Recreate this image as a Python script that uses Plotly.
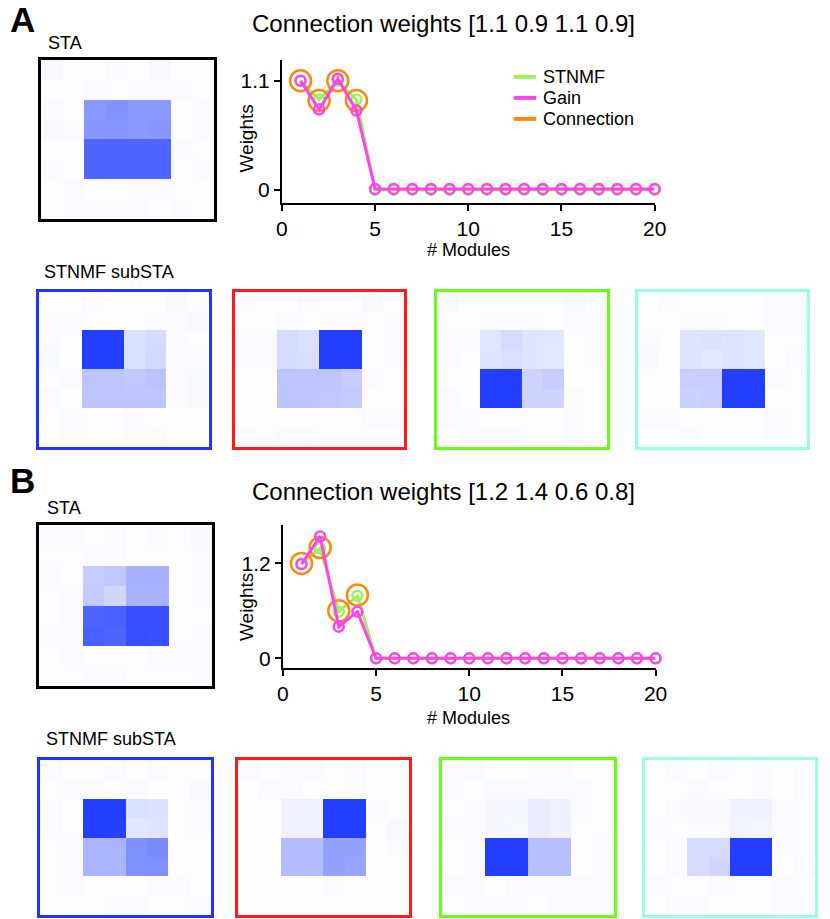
import plotly.graph_objects as go

W, H = 830, 919

# ---------------- data ----------------
modules = list(range(1, 21))

A_title = "Connection weights [1.1 0.9 1.1 0.9]"
A_stnmf = [1.10, 0.91, 1.10, 0.91] + [0.0] * 16
A_gain = [1.10, 0.81, 1.12, 0.80] + [0.01] * 16
A_conn = [1.1, 0.9, 1.1, 0.9]
A_yticks = [0, 1.1]
A_yrange = [-0.13, 1.31]

B_title = "Connection weights [1.2 1.4 0.6 0.8]"
B_stnmf = [1.20, 1.39, 0.59, 0.79] + [0.0] * 16
B_gain = [1.19, 1.54, 0.40, 0.59] + [0.0] * 16
B_conn = [1.2, 1.4, 0.6, 0.8]
B_yticks = [0, 1.2]
B_yrange = [-0.126, 1.68]

x_ticks = [0, 5, 10, 15, 20]
legend_names = ["STNMF", "Gain", "Connection"]

A_sta = [
    [0.03, 0.01, 0.01, 0.02, 0.01, 0.03, 0.01, 0.01],
    [0.01, 0.01, 0.02, 0.01, 0.02, 0.02, 0.02, 0.01],
    [0.02, 0.01, 0.53, 0.56, 0.53, 0.53, 0.01, 0.02],
    [0.03, 0.02, 0.54, 0.54, 0.53, 0.54, 0.01, 0.02],
    [0.01, 0.01, 0.79, 0.80, 0.79, 0.79, 0.02, 0.01],
    [0.02, 0.01, 0.79, 0.79, 0.79, 0.79, 0.01, 0.02],
    [0.01, 0.02, 0.01, 0.01, 0.02, 0.02, 0.01, 0.01],
    [0.01, 0.02, 0.02, 0.02, 0.02, 0.01, 0.02, 0.01],
]
A_sub1 = [
    [0.01, 0.01, 0.02, 0.01, 0.01, 0.01, 0.03, 0.01],
    [0.02, 0.02, 0.01, 0.01, 0.01, 0.02, 0.02, 0.03],
    [0.02, 0.01, 0.99, 0.99, 0.16, 0.19, 0.02, 0.01],
    [0.03, 0.01, 0.99, 0.99, 0.16, 0.20, 0.02, 0.02],
    [0.01, 0.02, 0.30, 0.30, 0.28, 0.31, 0.02, 0.03],
    [0.02, 0.01, 0.30, 0.29, 0.29, 0.29, 0.02, 0.03],
    [0.01, 0.02, 0.01, 0.01, 0.02, 0.01, 0.01, 0.01],
    [0.01, 0.02, 0.01, 0.01, 0.02, 0.02, 0.01, 0.01],
]
A_sub2 = [
    [0.02, 0.01, 0.01, 0.02, 0.01, 0.01, 0.03, 0.01],
    [0.01, 0.01, 0.02, 0.01, 0.02, 0.02, 0.01, 0.02],
    [0.02, 0.02, 0.18, 0.16, 0.99, 0.99, 0.01, 0.02],
    [0.02, 0.02, 0.18, 0.17, 0.99, 0.99, 0.01, 0.02],
    [0.01, 0.01, 0.30, 0.29, 0.29, 0.26, 0.02, 0.01],
    [0.01, 0.01, 0.29, 0.29, 0.28, 0.27, 0.01, 0.01],
    [0.01, 0.01, 0.01, 0.01, 0.01, 0.01, 0.02, 0.02],
    [0.02, 0.01, 0.02, 0.02, 0.01, 0.01, 0.01, 0.01],
]
A_sub3 = [
    [0.03, 0.01, 0.01, 0.01, 0.01, 0.01, 0.03, 0.01],
    [0.01, 0.01, 0.02, 0.02, 0.02, 0.01, 0.02, 0.02],
    [0.02, 0.02, 0.13, 0.18, 0.14, 0.13, 0.01, 0.02],
    [0.02, 0.01, 0.14, 0.16, 0.14, 0.12, 0.01, 0.02],
    [0.01, 0.01, 0.99, 0.99, 0.22, 0.26, 0.01, 0.01],
    [0.02, 0.01, 0.99, 0.99, 0.22, 0.22, 0.02, 0.01],
    [0.02, 0.02, 0.01, 0.01, 0.01, 0.01, 0.02, 0.01],
    [0.01, 0.02, 0.02, 0.02, 0.01, 0.01, 0.02, 0.01],
]
A_sub4 = [
    [0.01, 0.02, 0.01, 0.01, 0.01, 0.01, 0.02, 0.02],
    [0.01, 0.01, 0.02, 0.02, 0.01, 0.01, 0.02, 0.02],
    [0.02, 0.01, 0.14, 0.15, 0.14, 0.13, 0.01, 0.01],
    [0.03, 0.01, 0.14, 0.12, 0.14, 0.13, 0.01, 0.02],
    [0.01, 0.01, 0.25, 0.25, 0.99, 0.99, 0.02, 0.01],
    [0.01, 0.01, 0.23, 0.25, 0.99, 0.99, 0.01, 0.01],
    [0.02, 0.02, 0.01, 0.01, 0.01, 0.01, 0.02, 0.01],
    [0.01, 0.01, 0.02, 0.01, 0.01, 0.01, 0.02, 0.01],
]
B_sta = [
    [0.02, 0.02, 0.01, 0.02, 0.01, 0.02, 0.01, 0.03],
    [0.01, 0.01, 0.02, 0.02, 0.01, 0.01, 0.01, 0.02],
    [0.02, 0.01, 0.26, 0.28, 0.40, 0.40, 0.01, 0.02],
    [0.01, 0.02, 0.27, 0.21, 0.39, 0.39, 0.01, 0.02],
    [0.01, 0.02, 0.80, 0.82, 0.90, 0.90, 0.01, 0.01],
    [0.02, 0.02, 0.82, 0.80, 0.91, 0.90, 0.01, 0.02],
    [0.01, 0.02, 0.01, 0.01, 0.01, 0.02, 0.02, 0.02],
    [0.01, 0.01, 0.02, 0.02, 0.01, 0.01, 0.01, 0.02],
]
B_sub1 = [
    [0.02, 0.01, 0.01, 0.02, 0.01, 0.02, 0.01, 0.01],
    [0.01, 0.02, 0.02, 0.01, 0.02, 0.01, 0.01, 0.03],
    [0.02, 0.01, 0.98, 0.99, 0.16, 0.15, 0.01, 0.02],
    [0.02, 0.01, 0.99, 0.98, 0.13, 0.14, 0.01, 0.02],
    [0.01, 0.02, 0.38, 0.38, 0.57, 0.60, 0.01, 0.01],
    [0.01, 0.02, 0.38, 0.38, 0.57, 0.57, 0.01, 0.01],
    [0.01, 0.02, 0.01, 0.01, 0.01, 0.02, 0.02, 0.01],
    [0.01, 0.01, 0.01, 0.02, 0.02, 0.01, 0.01, 0.02],
]
B_sub2 = [
    [0.02, 0.01, 0.02, 0.02, 0.01, 0.02, 0.01, 0.01],
    [0.01, 0.02, 0.02, 0.01, 0.01, 0.02, 0.01, 0.01],
    [0.01, 0.01, 0.07, 0.07, 0.99, 0.99, 0.02, 0.01],
    [0.01, 0.01, 0.07, 0.07, 0.99, 0.99, 0.01, 0.03],
    [0.01, 0.01, 0.34, 0.34, 0.48, 0.48, 0.01, 0.02],
    [0.01, 0.01, 0.34, 0.34, 0.48, 0.46, 0.01, 0.01],
    [0.01, 0.01, 0.01, 0.01, 0.02, 0.01, 0.01, 0.01],
    [0.01, 0.01, 0.01, 0.01, 0.01, 0.01, 0.01, 0.01],
]
B_sub3 = [
    [0.02, 0.02, 0.01, 0.01, 0.02, 0.02, 0.01, 0.01],
    [0.02, 0.01, 0.02, 0.02, 0.02, 0.02, 0.02, 0.01],
    [0.01, 0.02, 0.04, 0.04, 0.09, 0.07, 0.02, 0.01],
    [0.02, 0.02, 0.04, 0.03, 0.09, 0.07, 0.01, 0.01],
    [0.01, 0.02, 0.99, 0.99, 0.33, 0.33, 0.01, 0.02],
    [0.01, 0.02, 0.99, 0.99, 0.33, 0.33, 0.01, 0.02],
    [0.02, 0.02, 0.01, 0.02, 0.02, 0.02, 0.02, 0.02],
    [0.01, 0.02, 0.02, 0.02, 0.01, 0.02, 0.02, 0.02],
]
B_sub4 = [
    [0.01, 0.02, 0.01, 0.02, 0.01, 0.02, 0.01, 0.02],
    [0.01, 0.01, 0.02, 0.01, 0.01, 0.02, 0.01, 0.02],
    [0.01, 0.02, 0.03, 0.03, 0.07, 0.07, 0.02, 0.01],
    [0.02, 0.01, 0.02, 0.02, 0.06, 0.05, 0.02, 0.01],
    [0.01, 0.02, 0.18, 0.18, 0.99, 0.99, 0.02, 0.01],
    [0.01, 0.02, 0.18, 0.21, 0.99, 0.99, 0.01, 0.02],
    [0.02, 0.01, 0.01, 0.02, 0.01, 0.01, 0.02, 0.01],
    [0.01, 0.02, 0.02, 0.01, 0.01, 0.01, 0.02, 0.02],
]

# ---------------- styles ----------------
FONT = "Liberation Sans, Arial, sans-serif"
C_STNMF = "#9cf25c"
C_GAIN = "#ff44ee"
C_CONN = "#ff8812"
LEGEND_COLORS = [C_STNMF, C_GAIN, C_CONN]
FRAME_COLORS = ["#2233ff", "#ff1a1a", "#66ff14", "#99ffdd"]
BLUE_SCALE = [[0, "rgb(255,255,255)"], [1, "rgb(34,60,255)"]]


def px_x(a, b):
    return [a / W, b / W]


def px_y(top, bottom):
    return [1 - bottom / H, 1 - top / H]


fig = go.Figure()
layout_axes = {}


def add_heat(idx, z, xdom, ydom, frame):
    xa = "x" if idx == 1 else f"x{idx}"
    ya = "y" if idx == 1 else f"y{idx}"
    fig.add_trace(go.Heatmap(z=z, xaxis=xa, yaxis=ya, zmin=0, zmax=1,
                             colorscale=BLUE_SCALE, showscale=False,
                             hoverinfo="skip"))
    common = dict(showline=True, mirror=True, linewidth=2.5, linecolor=frame,
                  showticklabels=False, ticks="", showgrid=False, zeroline=False)
    layout_axes[f"xaxis{idx}"] = dict(domain=px_x(*xdom), anchor=ya,
                                      range=[-0.5, 7.5], **common)
    layout_axes[f"yaxis{idx}"] = dict(domain=px_y(*ydom), anchor=xa,
                                      range=[7.5, -0.5], **common)


def add_chart(idx, stnmf, gain, conn, yticks, yrange, xdom, ydom):
    xa = "x" if idx == 1 else f"x{idx}"
    ya = "y" if idx == 1 else f"y{idx}"
    fig.add_trace(go.Scatter(x=modules, y=stnmf, mode="lines+markers", name="STNMF",
                             line=dict(color=C_STNMF, width=3),
                             marker=dict(symbol="circle-open", size=10, color=C_STNMF,
                                         line=dict(width=2.5)),
                             xaxis=xa, yaxis=ya, showlegend=False, cliponaxis=False))
    fig.add_trace(go.Scatter(x=modules[:len(conn)], y=conn, mode="markers",
                             name="Connection",
                             marker=dict(symbol="circle-open", size=21, color=C_CONN,
                                         line=dict(width=2.5)),
                             xaxis=xa, yaxis=ya, showlegend=False, cliponaxis=False))
    fig.add_trace(go.Scatter(x=modules, y=gain, mode="lines+markers", name="Gain",
                             line=dict(color=C_GAIN, width=3),
                             marker=dict(symbol="circle-open", size=10, color=C_GAIN,
                                         line=dict(width=2.5)),
                             xaxis=xa, yaxis=ya, showlegend=False, cliponaxis=False))
    axis_common = dict(showline=True, linewidth=2, linecolor="black", ticks="outside",
                       ticklen=6, tickwidth=2, tickcolor="black", showgrid=False,
                       zeroline=False, tickfont=dict(size=21, color="black"))
    layout_axes[f"xaxis{idx}"] = dict(domain=px_x(*xdom), anchor=ya, range=[0, 20],
                                      tickvals=x_ticks, **axis_common)
    layout_axes[f"yaxis{idx}"] = dict(domain=px_y(*ydom), anchor=xa, range=yrange,
                                      tickvals=yticks, **axis_common)


# Panel A
add_chart(1, A_stnmf, A_gain, A_conn, A_yticks, A_yrange, (282, 663), (60, 203))
add_heat(2, A_sta, (36, 213), (60, 219), "black")
A_sub_x = [(34, 207), (234, 407), (441, 614), (646, 819)]
for i, (z, xd) in enumerate(zip([A_sub1, A_sub2, A_sub3, A_sub4], A_sub_x)):
    add_heat(3 + i, z, xd, (292, 447), FRAME_COLORS[i])

# Panel B
add_chart(7, B_stnmf, B_gain, B_conn, B_yticks, B_yrange, (283, 664), (526, 669))
add_heat(8, B_sta, (34, 211), (526, 687), "black")
B_sub_x = [(35, 210), (237, 412), (446, 621), (653, 827)]
for i, (z, xd) in enumerate(zip([B_sub1, B_sub2, B_sub3, B_sub4], B_sub_x)):
    add_heat(9 + i, z, xd, (761, 916), FRAME_COLORS[i])


def ann(text, x, y, size, bold=False, angle=0, xanchor="center"):
    return dict(text=f"<b>{text}</b>" if bold else text, x=x / W, y=1 - y / H,
                xref="paper", yref="paper", showarrow=False, textangle=angle,
                xanchor=xanchor, yanchor="middle",
                font=dict(size=size, color="black", family=FONT))


annotations = [
    ann("A", 2, 20, 35, bold=True, xanchor="left"),
    ann("B", 2, 481, 35, bold=True, xanchor="left"),
    ann(A_title, 447, 24, 24),
    ann(B_title, 447, 492, 24),
    ann("STA", 41, 43, 18, xanchor="left"),
    ann("STA", 40, 509, 18, xanchor="left"),
    ann("STNMF subSTA", 37, 272, 18, xanchor="left"),
    ann("STNMF subSTA", 39, 740, 18, xanchor="left"),
    ann("Weights", 246, 139, 19, angle=-90),
    ann("Weights", 246, 608, 19, angle=-90),
    ann("# Modules", 473, 250, 18),
    ann("# Modules", 473, 719, 18),
]

# manual legend (line swatches + labels) for panel A
shapes = []
legend_rows_y = [77, 98, 119]
for name, col, ly in zip(legend_names, LEGEND_COLORS, legend_rows_y):
    shapes.append(dict(type="line", xref="paper", yref="paper",
                       x0=519 / W, x1=542 / W, y0=1 - ly / H, y1=1 - ly / H,
                       line=dict(color=col, width=4)))
    annotations.append(ann(name, 547, ly, 18, xanchor="left"))

fig.update_layout(
    width=W, height=H,
    margin=dict(l=0, r=0, t=0, b=0),
    paper_bgcolor="white", plot_bgcolor="white",
    font=dict(family=FONT, color="black"),
    showlegend=False,
    annotations=annotations,
    shapes=shapes,
    **layout_axes,
)

fig.write_html(
    "out.html",
    config={"displayModeBar": False},
    post_script="document.body.style.margin='0';document.body.style.overflow='hidden';",
)
